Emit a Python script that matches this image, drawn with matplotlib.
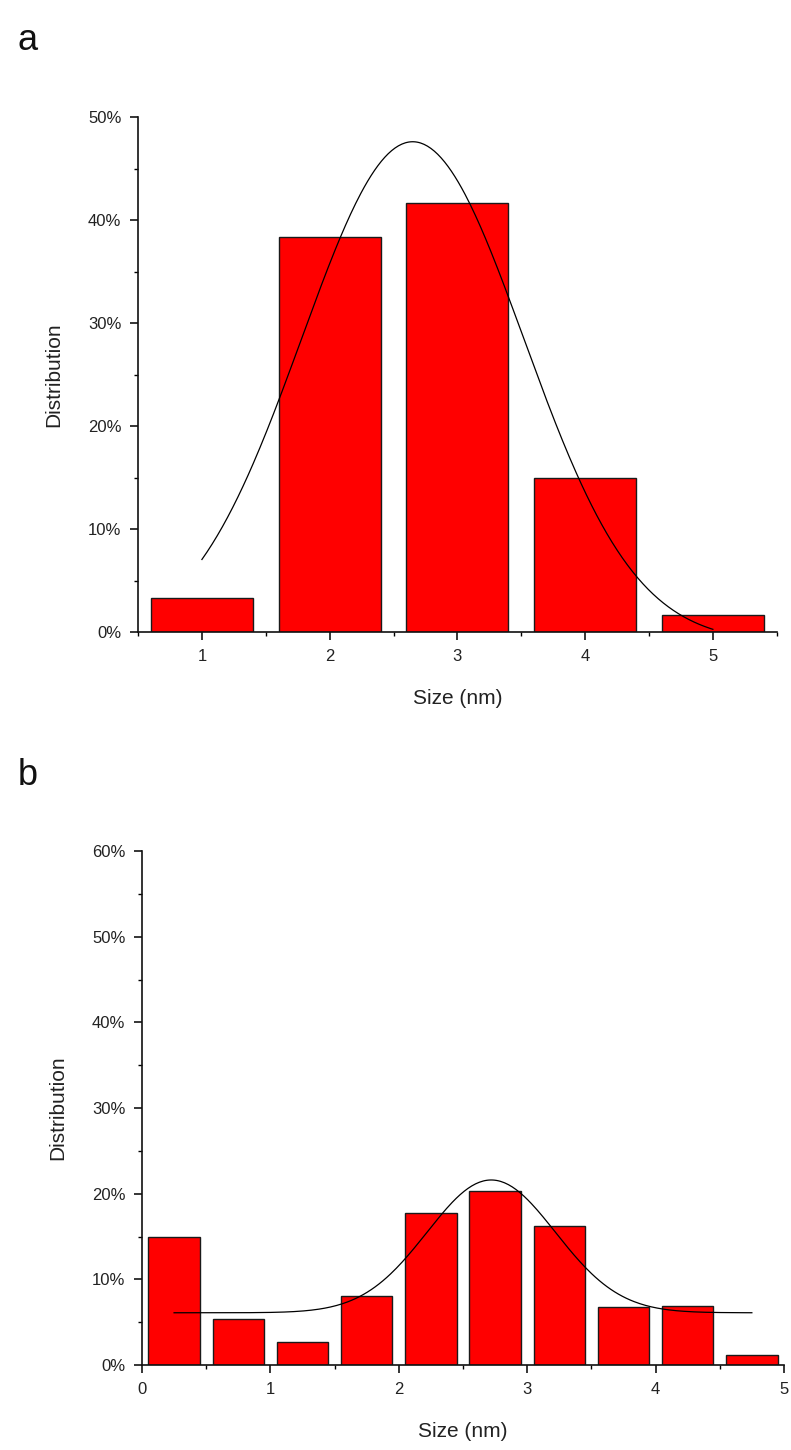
import numpy as np
import matplotlib
matplotlib.use("Agg")
import matplotlib.pyplot as plt
from matplotlib.ticker import MultipleLocator, PercentFormatter

plt.rcParams["font.family"] = ["Liberation Sans", "DejaVu Sans"]

# panel a: histogram values (%)
sizes_a = [1, 2, 3, 4, 5]
dist_a = [3.3, 38.4, 41.7, 15.0, 1.7]
# gaussian fit: centre, sigma, amplitude, offset, x range
fit_a = dict(xc=2.65, s=0.87, amp=48.6, y0=-1.0, x0=1.0, x1=5.0)

# panel b
sizes_b = [0.25, 0.75, 1.25, 1.75, 2.25, 2.75, 3.25, 3.75, 4.25, 4.75]
dist_b = [14.9, 5.4, 2.7, 8.1, 17.7, 20.3, 16.2, 6.8, 6.9, 1.2]
fit_b = dict(xc=2.72, s=0.50, amp=15.5, y0=6.1, x0=0.25, x1=4.75)

txt_col = "#222222"


def gauss_curve(p):
    x = np.linspace(p["x0"], p["x1"], 300)
    y = p["y0"] + p["amp"] * np.exp(-(x - p["xc"]) ** 2 / (2 * p["s"] ** 2))
    return x, y


def style_axes(ax, ymax, ymajor):
    ax.spines["top"].set_visible(False)
    ax.spines["right"].set_visible(False)
    for sp in ("left", "bottom"):
        ax.spines[sp].set_linewidth(1.2)
        ax.spines[sp].set_color("#111111")
    ax.set_ylim(0, ymax)
    ax.yaxis.set_major_locator(MultipleLocator(ymajor))
    ax.yaxis.set_minor_locator(MultipleLocator(ymajor / 2))
    ax.yaxis.set_major_formatter(PercentFormatter(xmax=100, decimals=0))
    ax.xaxis.set_major_locator(MultipleLocator(1))
    ax.xaxis.set_minor_locator(MultipleLocator(0.5))
    ax.tick_params(which="major", direction="out", length=6, width=1.1,
                   labelsize=12, labelcolor=txt_col, pad=6)
    ax.tick_params(which="minor", direction="out", length=3, width=1.0)
    ax.set_ylabel("Distribution", fontsize=15, color=txt_col, labelpad=18)
    ax.set_xlabel("Size (nm)", fontsize=15, color=txt_col, labelpad=18)


fig = plt.figure(figsize=(7.91, 14.5), dpi=100)

# ---- a ----
ax1 = fig.add_axes([0.1745, 0.5641, 0.8075, 0.3552])
ax1.bar(sizes_a, dist_a, width=0.8, color="#ff0000", edgecolor="#1a1a1a",
        linewidth=1.0, zorder=2)
xa, ya = gauss_curve(fit_a)
ax1.plot(xa, ya, color="black", linewidth=0.9, zorder=3)
ax1.set_xlim(0.5, 5.5)
style_axes(ax1, 50, 10)
ax1.set_xticks([1, 2, 3, 4, 5])

# ---- b ----
ax2 = fig.add_axes([0.1795, 0.0586, 0.8116, 0.3545])
ax2.bar(sizes_b, dist_b, width=0.4, color="#ff0000", edgecolor="#1a1a1a",
        linewidth=1.0, zorder=2)
xb, yb = gauss_curve(fit_b)
ax2.plot(xb, yb, color="black", linewidth=0.9, zorder=3)
ax2.set_xlim(0, 5)
style_axes(ax2, 60, 10)

fig.text(0.022, 0.972, "a", fontsize=26, color="#111111", va="center")
fig.text(0.022, 0.465, "b", fontsize=26, color="#111111", va="center")

fig.savefig("out.png", dpi=100)
